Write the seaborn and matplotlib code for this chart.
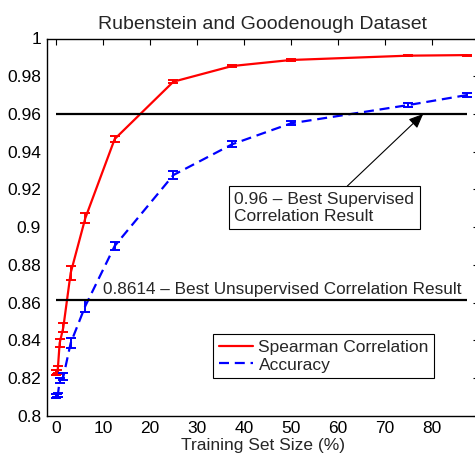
import matplotlib
matplotlib.use('Agg')
import numpy as np
import pandas as pd
import seaborn as sns
import matplotlib.pyplot as plt
from matplotlib.ticker import FuncFormatter

# --- data ---
train_size = [0.05, 0.1, 0.2, 0.39, 0.78, 1.56, 3.125, 6.25, 12.5, 25, 37.5, 50, 75, 87.5]
spearman = [0.8228, 0.8229, 0.8232, 0.8247, 0.8385, 0.8468, 0.8757, 0.9048, 0.9467,
            0.9771, 0.9854, 0.9886, 0.9909, 0.9912]
spearman_err = [0.0012, 0.0012, 0.0012, 0.0018, 0.0020, 0.0024, 0.0035, 0.0028, 0.0015,
                0.0008, 0.0005, 0.0003, 0.0003, 0.0003]
accuracy = [0.8105, 0.8106, 0.8107, 0.8110, 0.8186, 0.8206, 0.8385, 0.8582, 0.8900,
            0.9276, 0.9439, 0.9550, 0.9647, 0.9700]
accuracy_err = [0.0010, 0.0010, 0.0010, 0.0010, 0.0013, 0.0019, 0.0027, 0.0030, 0.0022,
                0.0020, 0.0015, 0.0010, 0.0012, 0.0012]

best_supervised = 0.96
best_unsupervised = 0.8614

df = pd.DataFrame({
    'size': train_size * 2,
    'value': spearman + accuracy,
    'series': ['Spearman Correlation'] * len(train_size) + ['Accuracy'] * len(train_size),
})

sns.set_theme(style='white')
plt.rcParams['font.family'] = ['Liberation Sans', 'DejaVu Sans']
plt.rcParams['font.size'] = 12.5

fig = plt.figure(figsize=(4.75, 4.59), dpi=100)
ax = fig.add_axes([46.6 / 475, 1 - 415.7 / 459, 432 / 475, 377.2 / 459])

dash = (4.5, 2.6)
sns.lineplot(data=df, x='size', y='value', hue='series', style='series',
             palette={'Spearman Correlation': 'red', 'Accuracy': 'blue'},
             dashes={'Spearman Correlation': '', 'Accuracy': dash},
             linewidth=1.6, ax=ax, legend=False, estimator=None, sort=False)

ax.errorbar(train_size, spearman, yerr=spearman_err, fmt='none', ecolor='red',
            elinewidth=1.4, capsize=3.5, capthick=1.4)
ax.errorbar(train_size, accuracy, yerr=accuracy_err, fmt='none', ecolor='blue',
            elinewidth=1.4, capsize=3.5, capthick=1.4)

# legend handles
h1, = ax.plot([], [], color='red', lw=1.6, label='Spearman Correlation')
h2, = ax.plot([], [], color='blue', lw=1.6, ls=(0, dash), label='Accuracy')

ax.hlines([best_supervised, best_unsupervised], 0, 87.5, colors='black', lw=1.6)

ax.text(10.05, 0.8645, '0.8614 \u2013 Best Unsupervised Correlation Result',
        ha='left', va='baseline', fontsize=12.3)

ax.annotate('0.96 \u2013 Best Supervised\nCorrelation Result',
            xy=(78.2, best_supervised), xytext=(38.0, 0.9102),
            ha='left', va='center', multialignment='left', fontsize=12.5,
            bbox=dict(boxstyle='square,pad=0.3', fc='white', ec='black', lw=0.8),
            arrowprops=dict(arrowstyle='-|>,head_length=0.7,head_width=0.3',
                            color='black', lw=0.8, shrinkA=0, shrinkB=0))

leg = ax.legend(handles=[h1, h2], loc='lower left', bbox_to_anchor=(0.386, 0.1007),
                borderaxespad=0, handlelength=2.0, handletextpad=0.3,
                fancybox=False, framealpha=1, edgecolor='black', fontsize=12.5,
                borderpad=0.3, labelspacing=0.15)
leg.get_frame().set_linewidth(0.8)

ax.set_xlim(-2, 90)
ax.set_ylim(0.8, 1.0)
ax.set_xticks(np.arange(0, 81, 10))
ax.set_yticks(np.arange(0.8, 1.001, 0.02))
ax.yaxis.set_major_formatter(FuncFormatter(lambda v, p: f'{v:g}'))
ax.tick_params(direction='in', top=True, right=True, length=4, width=0.8,
               labelsize=12.5, colors='black', pad=4)
for s in ax.spines.values():
    s.set_color('black')
    s.set_linewidth(1.0)

ax.set_title('Rubenstein and Goodenough Dataset', fontsize=14, pad=7)
ax.set_xlabel('Training Set Size (%)', fontsize=12.5, labelpad=1)
ax.set_ylabel('')

fig.savefig('out.png', dpi=100)
